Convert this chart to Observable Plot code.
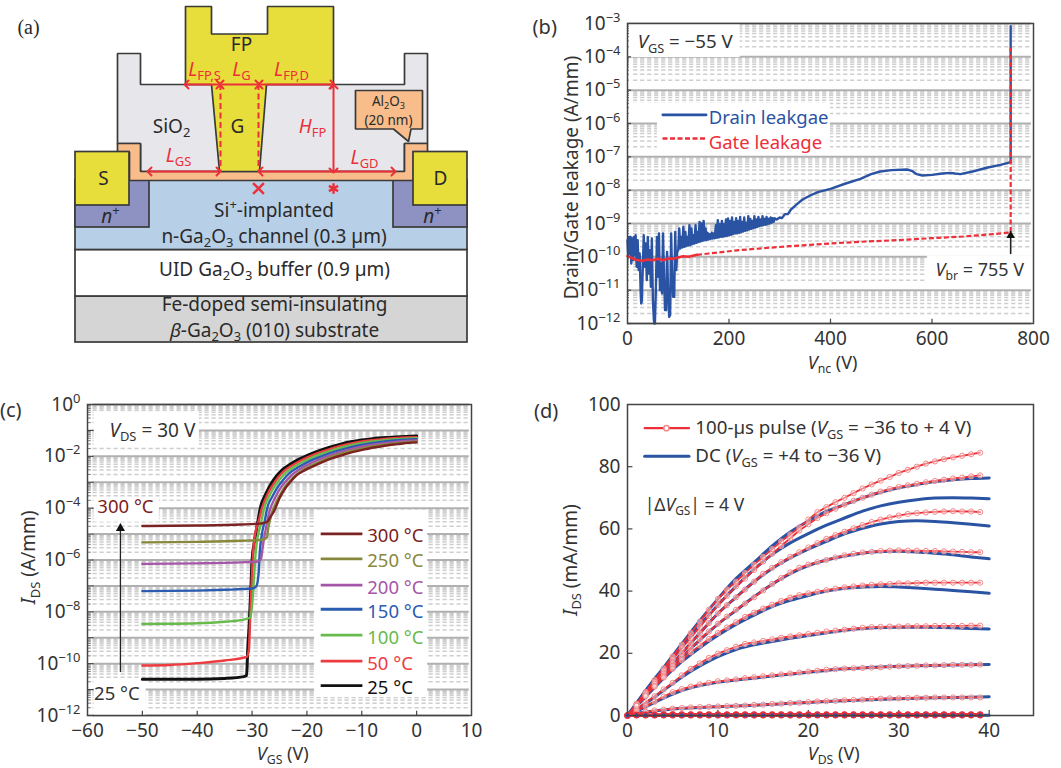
<!DOCTYPE html>
<html>
<head>
<meta charset="utf-8">
<script src="https://cdn.jsdelivr.net/npm/d3@7"></script>
<script src="https://cdn.jsdelivr.net/npm/@observablehq/plot@0.6"></script>
<style>
html,body{margin:0;padding:0;background:#fff}
#page{position:relative;width:1061px;height:768px;overflow:hidden;background:#fff}
#page>svg{position:absolute;background:transparent}
</style>
</head>
<body>
<div id="page"></div>
<script>
const FONT = "'Noto Sans', sans-serif";
const INK = "#333", RED = "#ec2f38", BLUE = "#2b53a3", FRAME = "#444";

/* ---------- panel (a): device cross-section geometry, in picture units ---------- */
const substrateLayer = {x1:75,x2:467,y1:296,y2:342};
const bufferLayer = {x1:75,x2:467,y1:249.5,y2:296};
const channelLayer = {x1:75,x2:467,y1:180,y2:249.5};
const nPlusRegions = [{x1:75,x2:149,y1:180,y2:227},{x1:393,x2:467,y1:180,y2:227}];
const contactRegions = [{x1:75,x2:129,y1:151.5,y2:205},{x1:413,x2:467,y1:151.5,y2:205}];
const oxideOutline = [[117,143],[117,53],[140,53],[140,84],[404,84],[404,53],[427,53],[427,143],[404,143],[404,171],[140,171],[140,143],[117,143]];
const aluminaOutline = [[117,151.5],[117,143],[140,143],[140,171],[404,171],[404,143],[427,143],[427,151.5],[413,151.5],[413,180],[129,180],[129,151.5],[117,151.5]];
const gateOutline = [[185,6],[211,6],[211,33.5],[267,33.5],[267,6],[333,6],[333,84],[266,84],[259,171],[219,171],[211,84],[185,84],[185,6]];
const calloutOutline = [[355,90],[422,90],[422,128.5],[410.5,128.5],[408,141],[393,128.5],[355,128.5],[355,90]];
const dimensionArrows = [
  {x1:186,y1:84,x2:218,y2:84},{x1:221,y1:84,x2:257,y2:84},{x1:260,y1:84,x2:332,y2:84},
  {x1:149,y1:171,x2:218,y2:171},{x1:260,y1:171,x2:393,y2:171},{x1:333,y1:86,x2:333,y2:170}
];
const gateGuides = [{x:220,y1:84,y2:171},{x:258,y1:84,y2:171}];
const fieldMarks = [{x:258,y:188,s:"times"},{x:333,y:188,s:"asterisk"}];
const blackLabelsA = [
  {x:241,y:44,t:"FP"},{x:171,y:126,t:"SiO_{2}"},{x:237,y:126,t:"G"},{x:103,y:178,t:"S"},{x:440,y:178,t:"D"},
  {x:110,y:216,t:"*n*^{+}"},{x:432,y:216,t:"*n*^{+}"},
  {x:273.5,y:210,t:"Si^{+}-implanted"},{x:273.5,y:236,t:"n-Ga_{2}O_{3} channel (0.3 µm)"},
  {x:274,y:269,t:"UID Ga_{2}O_{3} buffer (0.9 µm)"},
  {x:274,y:304,t:"Fe-doped semi-insulating"},{x:274,y:330,t:"*β*-Ga_{2}O_{3} (010) substrate"}
];
const redLabelsA = [
  {x:204,y:69,t:"*L*_{FP,S}"},{x:241,y:69,t:"*L*_{G}"},{x:291,y:69,t:"*L*_{FP,D}"},
  {x:312,y:126,t:"*H*_{FP}"},{x:178,y:155,t:"*L*_{GS}"},{x:364,y:157,t:"*L*_{GD}"}
];
const calloutLabels = [{x:388,y:101,t:"Al_{2}O_{3}"},{x:388,y:120.5,t:"(20 nm)"}];

/* ---------- panel (b): leakage, [V, log10 A/mm] ---------- */
const drainLeakage = [[0,-9.5],[1.5,-10],[3,-9.4],[4.5,-9.9],[6,-9.4],[7.5,-10.2],[9,-9.45],[11,-10.1],[12.5,-9.4],[14,-9.95],[16,-9.35],[18,-10.3],[20,-9.5],[22,-10.4],[24,-9.9],[26,-11.1],[27,-11.4],[28,-11.35],[30,-10.4],[32,-9.35],[34,-10.3],[36,-9.6],[38,-10.7],[40,-9.4],[42,-10.5],[44,-9.8],[46,-10.9],[48,-9.45],[50,-11.3],[52,-11.9],[53,-12],[54,-12],[56,-10.9],[58,-9.4],[60,-10.6],[62,-9.3],[64,-11],[66,-10.2],[68,-11.1],[70,-9.3],[72,-10.6],[74,-11.6],[76,-11.6],[78,-9.85],[80,-11],[82,-11.8],[84,-11.75],[86,-9.3],[88,-10.6],[90,-11.2],[92,-11.2],[94,-9.25],[96,-10.4],[98,-9.85],[100,-9.8],[102,-9.15],[104,-9.75],[106,-9.4],[108,-9.72],[110,-9.1],[112,-9.7],[114,-9.25],[116,-9.68],[118,-9.4],[120,-9.66],[122,-9.05],[124,-9.65],[126,-9.15],[128,-9.62],[130,-9.35],[132,-9.6],[134,-9.05],[136,-9.58],[138,-9.25],[140,-9.56],[142,-8.95],[144,-9.54],[146,-9],[148,-9.52],[150,-8.92],[152,-9.5],[154,-9.15],[156,-9.5],[158,-9.28],[160,-9.48],[162,-9.32],[164,-9.46],[166,-9.28],[168,-9.45],[170,-9.3],[172,-9.44],[174,-9.05],[176,-9.43],[178,-8.9],[180,-9.42],[182,-9.02],[184,-9.4],[186,-8.92],[188,-9.4],[190,-9.02],[192,-9.38],[194,-8.88],[196,-9.37],[198,-8.85],[200,-9.36],[202,-8.92],[204,-9.34],[206,-8.82],[208,-9.32],[210,-8.95],[212,-9.3],[214,-8.84],[216,-9.3],[218,-8.92],[220,-9.28],[222,-8.8],[224,-9.26],[226,-8.95],[228,-9.24],[230,-8.82],[232,-9.22],[234,-8.98],[236,-9.2],[238,-8.78],[240,-9.18],[242,-8.86],[244,-9.16],[246,-8.92],[248,-9.14],[250,-8.78],[252,-9.12],[254,-8.88],[256,-9.1],[258,-8.8],[260,-9.08],[262,-8.88],[264,-9.06],[266,-8.78],[268,-9.05],[270,-8.86],[272,-9.04],[274,-8.8],[276,-9.02],[278,-8.86],[280,-9],[282,-8.82],[284,-8.98],[286,-8.84],[288,-8.95],[290,-8.84],[294,-8.88],[300,-8.82],[304,-8.84],[310,-8.72],[316,-8.72],[322,-8.58],[328,-8.5],[334,-8.42],[345,-8.28],[360,-8.16],[375,-8.06],[400,-7.96],[430,-7.8],[459,-7.66],[480,-7.52],[498,-7.44],[520,-7.4],[551,-7.38],[560,-7.42],[570,-7.52],[581,-7.56],[600,-7.54],[620,-7.5],[636,-7.48],[645,-7.5],[656,-7.52],[680,-7.44],[710,-7.32],[735,-7.24],[755,-7.16],[755,-3.08]];
const gateEarly = [[0,-9.98],[8,-10.03],[15,-10.08],[22,-10.1],[30,-10.12],[40,-10.08],[50,-10.1],[60,-10.06],[70,-10.1],[80,-10.05],[90,-10.06],[100,-10.02],[110,-9.98],[120,-10],[137,-9.94]];
const gateLate = [[137,-9.94],[160,-9.9],[190,-9.85],[220,-9.8],[268,-9.74],[320,-9.68],[399,-9.6],[470,-9.54],[531,-9.5],[600,-9.44],[662,-9.39],[720,-9.32],[755,-9.27],[755,-3.72]];
const breakdownArrow = [[755,-9.9],[755,-9.42]];
const breakdownTip = [[755,-9.36]];
const boxesB = [
  {x1:0,x2:222,y1:-3,y2:-4.02},{x1:12,x2:400,y1:-5.4,y2:-5.96},{x1:59,x2:400,y1:-5.96,y2:-6.96},{x1:591,x2:800,y1:-9.97,y2:-10.98}
];
const legendLinesB = [[69.5,-5.74],[155,-5.74]];
const legendDashB = [[69,-6.45],[155,-6.45]];
const textsB = [
  {x:20,e:-3.57,t:"*V*_{GS} = −55 V",c:INK,s:18.7},
  {x:160,e:-5.83,t:"Drain leakgae",c:BLUE,s:18.5},
  {x:160,e:-6.58,t:"Gate leakage",c:RED,s:18.5},
  {x:607,e:-10.4,t:"*V*_{br} = 755 V",c:INK,s:18}
];

/* ---------- panel (c): transfer curves, [VGS, log10 A/mm] ---------- */
const t25 = [[-50,-10.6],[-40,-10.6],[-35,-10.57],[-31.5,-10.5],[-31,-10.45],[-30.8,-9.5],[-30.5,-8.4],[-30.2,-7],[-30,-6],[-29.5,-5.2],[-29,-4.58],[-28.5,-4],[-27.5,-3.45],[-26.5,-3.05],[-25.5,-2.75],[-24.5,-2.52],[-23,-2.3],[-21.5,-2.12],[-20,-1.97],[-18,-1.8],[-16,-1.66],[-14,-1.54],[-12,-1.44],[-10,-1.37],[-8,-1.32],[-5,-1.27],[-2,-1.23],[0,-1.22]];
const t50 = [[-50,-10.07],[-45,-10.05],[-40,-9.98],[-35,-9.88],[-31,-9.74],[-30.6,-9.5],[-30.3,-8],[-30,-6.5],[-29.6,-5.2],[-28.8,-4.5],[-28.2,-4],[-27.2,-3.47],[-26.2,-3.1],[-25.2,-2.8],[-24.2,-2.57],[-22.7,-2.35],[-21.2,-2.17],[-19.7,-2.02],[-17.7,-1.85],[-15.7,-1.71],[-13.7,-1.59],[-11.7,-1.49],[-9.7,-1.42],[-7.7,-1.37],[-5,-1.31],[-2,-1.27],[0,-1.26]];
const t100 = [[-50,-8.47],[-45,-8.46],[-40,-8.44],[-35,-8.38],[-32,-8.32],[-30.3,-8.22],[-29.9,-7.5],[-29.6,-6.5],[-29.3,-5.6],[-28.4,-4.6],[-27.8,-4],[-26.8,-3.5],[-25.8,-3.12],[-24.8,-2.85],[-23.8,-2.62],[-22.3,-2.4],[-20.8,-2.22],[-19.3,-2.07],[-17.3,-1.9],[-15.3,-1.76],[-13.3,-1.64],[-11.3,-1.54],[-9.3,-1.46],[-7.3,-1.41],[-4.5,-1.35],[-2,-1.32],[0,-1.3]];
const t150 = [[-50,-7.2],[-40,-7.18],[-35,-7.15],[-30,-7.1],[-29.2,-7],[-28.8,-6.5],[-28.6,-5.7],[-28.2,-5],[-27.6,-4.4],[-27.3,-4.05],[-26.3,-3.55],[-25.3,-3.18],[-24.3,-2.9],[-23.3,-2.67],[-21.8,-2.45],[-20.3,-2.27],[-18.8,-2.12],[-16.8,-1.95],[-14.8,-1.81],[-12.8,-1.69],[-10.8,-1.59],[-8.8,-1.51],[-6.8,-1.45],[-4,-1.39],[-2,-1.36],[0,-1.34]];
const t200 = [[-50,-6.15],[-40,-6.13],[-32,-6.09],[-29,-6.06],[-28.4,-5.98],[-28,-5.4],[-27.5,-4.8],[-26.8,-4.1],[-25.8,-3.6],[-24.8,-3.22],[-23.8,-2.95],[-22.8,-2.73],[-21.3,-2.5],[-19.8,-2.32],[-18.3,-2.17],[-16.3,-2],[-14.3,-1.86],[-12.3,-1.74],[-10.3,-1.64],[-8.3,-1.56],[-6.3,-1.5],[-4,-1.45],[-2,-1.41],[0,-1.39]];
const t250 = [[-50,-5.32],[-40,-5.3],[-32,-5.26],[-28,-5.22],[-27.3,-5.12],[-27,-4.7],[-26.4,-4.2],[-25.4,-3.68],[-24.4,-3.3],[-23.4,-3.02],[-22.4,-2.79],[-20.9,-2.56],[-19.4,-2.38],[-17.9,-2.23],[-15.9,-2.05],[-13.9,-1.91],[-11.9,-1.79],[-9.9,-1.69],[-7.9,-1.61],[-5.9,-1.55],[-4,-1.5],[-2,-1.46],[0,-1.44]];
const t300 = [[-50,-4.69],[-40,-4.67],[-32,-4.63],[-29,-4.6],[-28,-4.58],[-27.2,-4.52],[-26.7,-4.35],[-26,-4.12],[-25,-3.62],[-24,-3.25],[-23,-2.98],[-22,-2.75],[-20.5,-2.55],[-19,-2.4],[-17.5,-2.25],[-15.5,-2.08],[-13.5,-1.95],[-11.5,-1.83],[-9.5,-1.73],[-7.5,-1.65],[-5.5,-1.58],[-3.5,-1.53],[-1.5,-1.48],[0,-1.46]];
const temperatureSeries = [
  {t:"25 °C",c:"#111111",d:t25,e:-10.85,w:3},{t:"50 °C",c:"#ee3b3f",d:t50,e:-9.9,w:2.4},{t:"100 °C",c:"#68bb4b",d:t100,e:-8.9,w:2.4},
  {t:"150 °C",c:"#2a5cb0",d:t150,e:-7.9,w:2.4},{t:"200 °C",c:"#a656a8",d:t200,e:-6.97,w:2.4},{t:"250 °C",c:"#88883c",d:t250,e:-5.96,w:2.4},{t:"300 °C",c:"#7b2222",d:t300,e:-4.99,w:2.4}
];
const legendLineX = [-17.4,-9.8];
const boxesC = [
  {x1:-58.8,x2:-39.6,y1:-0.28,y2:-1.6},{x1:-58.8,x2:-46.9,y1:-3.65,y2:-4.54},
  {x1:-18.6,x2:2,y1:-4.08,y2:-11.3},{x1:-58.8,x2:-49.3,y1:-10.62,y2:-12}
];
const textsC = [
  {x:-56,e:-1,t:"*V*_{DS} = 30 V",c:INK,s:19},
  {x:-58.2,e:-3.96,t:"300 °C",c:"#7b2222",s:18.5},
  {x:-58.8,e:-11.19,t:"25 °C",c:INK,s:18.5}
];
const heatingArrow = [[-54,-10.3],[-54,-4.9]];
const heatingTip = [[-54,-4.78]];

/* ---------- panel (d): output curves, IDS (mA/mm) ---------- */
const pulseVds = d3.range(40);
const pulseA = [0,3.8,7.6,11.4,15.2,19,22.8,26.5,30.2,34,37.5,40.5,43,45.8,48.5,51,53.5,56,58.2,60.5,63,65.4,67,68.6,70,71.5,73,74.3,75.5,76.7,78,79,80,81,81.7,82.4,83,83.5,84,84.5];
const pulseB = [0,3.6,7.2,10.8,14.4,18,21.6,25,28.5,32,35.5,38.5,41.5,44,46.8,49.5,52,54.5,57,59.5,61.5,63.5,65,66.5,67.8,69,70,71,72,72.8,73.5,74,74.5,75,75.4,75.8,76.2,76.5,76.9,77.2];
const pulseC = [0,3.4,6.8,10.2,13.5,16.8,20,23.3,26.5,29.7,32.8,35.5,38,40.5,43,45.6,47.5,49.3,51,52.5,54,55.4,56.8,58,59.1,60.2,61.2,62.2,63,63.7,64.3,64.8,65.1,65.3,65.5,65.6,65.7,65.6,65.6,65.4];
const pulseD = [0,3.2,6.4,9.5,12.6,15.8,18.8,21.7,24.5,27,29.5,31.8,34,36,38,40.2,42.3,44.2,46,47.5,48.5,49.3,50,50.8,51.5,52,52.4,52.6,52.9,53,53.1,53,53,52.9,52.9,52.8,52.7,52.6,52.5,52.5];
const pulseE = [0,3.1,6.2,9.3,12.2,15,17.8,20.3,22.5,24.6,26.5,28.3,30,31.7,33.1,34.4,35.6,36.8,37.9,38.7,39.3,39.8,40.3,40.8,41.2,41.5,41.8,42,42.2,42.3,42.5,42.5,42.6,42.7,42.7,42.7,42.7,42.7,42.7,42.7];
const pulseF = [0,2,4.2,6.2,8.4,10.5,12.9,15,16.8,18.5,19.9,21,22.1,23,23.5,24,24.5,25,25.4,25.8,26.2,26.6,27,27.3,27.6,27.9,28.2,28.4,28.5,28.6,28.6,28.7,28.7,28.7,28.8,28.8,28.8,28.8,28.9,28.9];
const pulseG = [0,1.5,3,4.4,6.1,7.5,8.5,9.3,10,10.5,11,11.3,11.6,12,12.3,12.6,12.9,13.2,13.5,13.8,14.1,14.4,14.7,14.9,15.1,15.2,15.3,15.4,15.5,15.7,15.8,15.9,16,16.1,16.1,16.2,16.3,16.3,16.3,16.4];
const pulseH = [0,0.6,1.2,1.6,1.9,2.2,2.4,2.6,2.7,2.8,2.9,3,3.1,3.2,3.4,3.5,3.7,3.8,4,4.1,4.3,4.5,4.6,4.7,4.9,5,5.1,5.3,5.4,5.5,5.5,5.6,5.7,5.7,5.8,5.8,5.8,5.8,5.8,5.8];
const pulseI = [0,0.2,0.2,0.2,0.3,0.3,0.3,0.3,0.3,0.3,0.3,0.3,0.3,0.3,0.3,0.3,0.3,0.3,0.3,0.3,0.3,0.3,0.3,0.3,0.3,0.3,0.3,0.3,0.3,0.3,0.3,0.3,0.3,0.3,0.3,0.3,0.3,0.3,0.3,0.3];
const pulseJ = [0,0.1,0.1,0.1,0.1,0.1,0.1,0.1,0.1,0.1,0.1,0.1,0.1,0.1,0.1,0.1,0.1,0.1,0.1,0.1,0.1,0.1,0.1,0.1,0.1,0.1,0.1,0.1,0.1,0.1,0.1,0.1,0.1,0.1,0.1,0.1,0.1,0.1,0.1,0.1];
const pulseCurves = [pulseA,pulseB,pulseC,pulseD,pulseE,pulseF,pulseG,pulseH,pulseI,pulseJ];
const offCurves = [pulseI,pulseJ];
const dcA = [[0,0],[2,8],[4,15.5],[6,23],[8,30.5],[10,37.5],[12,44],[14,49.2],[16,54.5],[18,59],[20,62.5],[22,65.6],[24,67.8],[26,70],[28,71.8],[30,73.2],[32,74.3],[34,75.2],[36,75.8],[38,76.2],[40,76.4]];
const dcB = [[0,0],[2,7.4],[4,14.8],[6,22],[8,29],[10,35.5],[12,41.5],[14,47],[16,51.8],[18,55.5],[20,58.5],[22,61.2],[24,63.5],[26,65.7],[28,67.4],[30,68.6],[32,69.4],[34,69.9],[36,70],[38,69.9],[40,69.7]];
const dcC = [[0,0],[2,6.9],[4,13.5],[6,20],[8,26.5],[10,32.8],[12,38],[14,43],[16,47.3],[18,50.7],[20,53.5],[22,56],[24,58.4],[26,60.2],[28,61.6],[30,62.4],[32,62.6],[34,62.4],[36,62],[38,61.5],[40,60.9]];
const dcD = [[0,0],[2,6.3],[4,12.5],[6,18.6],[8,24.3],[10,29.4],[12,33.8],[14,38.2],[16,42.2],[18,45.6],[20,48.2],[22,50],[24,51.3],[26,52.2],[28,52.7],[30,52.8],[32,52.6],[34,52.2],[36,51.7],[38,51],[40,50.4]];
const dcE = [[0,0],[2,6],[4,12],[6,17.3],[8,21.8],[10,25.8],[12,29.3],[14,32.3],[16,35],[18,37],[20,38.6],[22,40],[24,40.9],[26,41.3],[28,41.5],[30,41.3],[32,41],[34,40.6],[36,40.2],[38,39.8],[40,39.3]];
const dcF = [[0,0],[2,3.9],[4,8.1],[6,12.3],[8,15.9],[10,18.9],[12,21.2],[14,22.7],[16,23.8],[18,24.8],[20,25.7],[22,26.6],[24,27.4],[26,28],[28,28.3],[30,28.4],[32,28.4],[34,28.3],[36,28.2],[38,28],[40,27.8]];
const dcG = [[0,0],[2,2.8],[4,5.6],[6,8],[8,9.6],[10,10.7],[12,11.4],[14,12],[16,12.7],[18,13.3],[20,13.9],[22,14.5],[24,15],[26,15.3],[28,15.6],[30,15.8],[32,16],[34,16.1],[36,16.2],[38,16.3],[40,16.4]];
const dcH = [[0,0],[2,1.1],[4,1.8],[6,2.3],[8,2.6],[10,2.8],[14,3.3],[18,3.9],[22,4.5],[26,5],[30,5.4],[34,5.7],[38,5.9],[40,6]];
const dcI = [[0,0],[20,0.05],[40,0.1]];
const dcCurves = [dcA,dcB,dcC,dcD,dcE,dcF,dcG,dcH,dcI];
const legendPulseLine = [[1.9,92.4],[6.8,92.4]];
const legendPulseDot = [[4.3,92.4]];
const legendDcLine = [[1.9,83.4],[6.8,83.4]];
const textsD = [
  {x:7.5,y:92.3,t:"100-µs pulse (*V*_{GS} = −36 to + 4 V)",s:18.7},
  {x:7.5,y:83.3,t:"DC (*V*_{GS} = +4 to −36 V)",s:18.7},
  {x:1.9,y:67.5,t:"|Δ*V*_{GS}| = 4 V",s:17.5}
];

/* ---------- helpers ---------- */
const TOKEN = /(\*[^*]+\*|_\{[^}]+\}|\^\{[^}]+\})/;
function rich(svg){
  svg.querySelectorAll("text").forEach(t=>{
    const s = t.textContent;
    if(!TOKEN.test(s)) return;
    const fs = parseFloat(getComputedStyle(t).fontSize);
    while(t.firstChild) t.removeChild(t.firstChild);
    let shift = 0;
    s.split(TOKEN).filter(p=>p!=="").forEach(p=>{
      const ts = document.createElementNS("http://www.w3.org/2000/svg","tspan");
      let target = 0, body = p;
      if(p[0]==="*"&&p.endsWith("*")&&p.length>2){body=p.slice(1,-1);ts.setAttribute("font-style","italic");}
      else if(p.startsWith("_{")){body=p.slice(2,-1);target=0.22*fs;ts.setAttribute("font-size",0.68*fs);}
      else if(p.startsWith("^{")){body=p.slice(2,-1);target=-0.42*fs;ts.setAttribute("font-size",0.68*fs);}
      if(target!==shift) ts.setAttribute("dy",target-shift);
      shift = target;
      ts.textContent = body;
      t.appendChild(ts);
    });
  });
}
function mount(plot,left,top){
  plot.style.left = left+"px";
  plot.style.top = top+"px";
  document.getElementById("page").appendChild(plot);
  rich(plot);
}
const decadeLabel = d => "10^{"+String(Math.round(Math.log10(d))).replace("-","−")+"}";
const val = d => 10**d[1];
const tag = (t)=>({t});

function logGrid(low,high,x1,x2,major){
  const minors=[]; const majors=[];
  for(let e=low;e<high;e++){ majors.push(10**e); for(let m=2;m<10;m++) minors.push(m*10**e); }
  majors.push(10**high);
  return [
    Plot.ruleY(minors,{x1,x2,stroke:"#8a8a8a",strokeOpacity:0.42,strokeWidth:1.5,strokeDasharray:"4.2 2.8"}),
    Plot.ruleY(majors,{x1:major,x2,stroke:"#b0b0b0",strokeWidth:2})
  ];
}
function logTicks(low,high,minorLen,majorLen,x0){
  const minors=[]; const majors=[];
  for(let e=low;e<high;e++){ majors.push(10**e); for(let m=2;m<10;m++) minors.push(m*10**e); }
  return [
    Plot.ruleY(minors,{x1:x0,x2:x0+minorLen,stroke:FRAME,strokeWidth:0.7}),
    Plot.ruleY(majors,{x1:x0,x2:x0+majorLen,stroke:FRAME,strokeWidth:1.2})
  ];
}

/* ---------- panel (a) ---------- */
const polygon = (pts,fill)=>Plot.line(pts,{x:d=>d[0],y:d=>d[1],fill,stroke:"#3a3a3a",strokeWidth:1.7,strokeLinejoin:"miter"});
const plotA = Plot.plot({
  width:530,height:380,margin:0,
  style:{fontFamily:FONT,fontSize:"19px",background:"transparent",color:INK},
  x:{domain:[0,530],axis:null},y:{domain:[0,380],range:[0,380],axis:null},
  marks:[
    Plot.rect([substrateLayer],{x1:"x1",x2:"x2",y1:"y1",y2:"y2",fill:"#d5d5d6",stroke:"#3a3a3a",strokeWidth:1.7}),
    Plot.rect([bufferLayer],{x1:"x1",x2:"x2",y1:"y1",y2:"y2",fill:"#ffffff",stroke:"#3a3a3a",strokeWidth:1.7}),
    Plot.rect([channelLayer],{x1:"x1",x2:"x2",y1:"y1",y2:"y2",fill:"#b8cfe8",stroke:"#3a3a3a",strokeWidth:1.7}),
    Plot.rect(nPlusRegions,{x1:"x1",x2:"x2",y1:"y1",y2:"y2",fill:"#8d92c3",stroke:"#3a3a3a",strokeWidth:1.7}),
    polygon(oxideOutline,"#e7e7eb"),
    polygon(aluminaOutline,"#f8bd8b"),
    polygon(gateOutline,"#e8de3b"),
    Plot.rect(contactRegions,{x1:"x1",x2:"x2",y1:"y1",y2:"y2",fill:"#e8de3b",stroke:"#3a3a3a",strokeWidth:1.7}),
    polygon(calloutOutline,"#f8bd8b"),
    Plot.ruleX(gateGuides,{x:"x",y1:"y1",y2:"y2",stroke:RED,strokeWidth:2,strokeDasharray:"6 3.5"}),
    Plot.link(dimensionArrows,{x1:"x1",y1:"y1",x2:"x2",y2:"y2",stroke:RED,strokeWidth:2,markerStart:"arrow-reverse",markerEnd:"arrow"}),
    Plot.dot(fieldMarks,{x:"x",y:"y",symbol:"s",r:5,stroke:RED,strokeWidth:2.4}),
    Plot.text(blackLabelsA,{x:"x",y:"y",text:"t",fill:"#2a2a2a",fontSize:19}),
    Plot.text(redLabelsA,{x:"x",y:"y",text:"t",fill:RED,fontSize:19}),
    Plot.text(calloutLabels,{x:"x",y:"y",text:"t",fill:"#2a2a2a",fontSize:13.5}),
    Plot.text([tag("(a)")],{x:()=>28,y:()=>27,text:"t",fontSize:20,fontFamily:"'Liberation Serif',serif",fill:"#2a2a2a"})
  ]
});
mount(plotA,0,0);

/* ---------- panel (b) ---------- */
const decadesB = d3.range(-12,-2).map(e=>10**e);
const plotB = Plot.plot({
  width:531,height:380,marginLeft:97,marginRight:28,marginTop:23,marginBottom:57,
  style:{fontFamily:FONT,fontSize:"19px",background:"transparent",color:INK},
  x:{domain:[0,800]},y:{type:"log",domain:[1e-12,1e-3]},
  marks:[
    ...logGrid(-12,-3,12,796,0),
    Plot.rect(boxesB,{x1:"x1",x2:"x2",y1:d=>10**d.y1,y2:d=>10**d.y2,fill:"white"}),
    ...logTicks(-12,-3,4,8,0),
    Plot.ruleX([200,400,600],{y1:1e-12,y2:10**-11.87,stroke:FRAME,strokeWidth:1.2}),
    Plot.line(drainLeakage,{x:d=>d[0],y:val,stroke:BLUE,strokeWidth:2.4}),
    Plot.line(gateEarly,{x:d=>d[0],y:val,stroke:RED,strokeWidth:2.6}),
    Plot.line(gateLate,{x:d=>d[0],y:val,stroke:RED,strokeWidth:2.2,strokeDasharray:"5 2.5",strokeLinecap:"butt"}),
    Plot.line(breakdownArrow,{x:d=>d[0],y:val,stroke:"#222",strokeWidth:1.6}),
    Plot.dot(breakdownTip,{x:d=>d[0],y:val,symbol:"triangle",r:3.2,fill:"#111"}),
    Plot.line(legendLinesB,{x:d=>d[0],y:val,stroke:BLUE,strokeWidth:2.6}),
    Plot.line(legendDashB,{x:d=>d[0],y:val,stroke:RED,strokeWidth:2.6,strokeDasharray:"5 2.5",strokeLinecap:"butt"}),
    Plot.text(textsB,{x:"x",y:d=>10**d.e,text:"t",fill:"c",textAnchor:"start",fontSize:"s"}),
    Plot.axisY(decadesB,{tickSize:0,tickPadding:7,label:null,tickFormat:decadeLabel,fontSize:19}),
    Plot.axisX([0,200,400,600,800],{tickSize:0,tickPadding:8,label:null,fontSize:19}),
    Plot.text([tag("*V*_{nc} (V)")],{x:()=>404,y:()=>10**-13.2,text:"t",fontSize:18,fill:INK}),
    Plot.text([tag("Drain/Gate leakage (A/mm)")],{x:()=>-110,y:()=>10**-7.62,text:"t",rotate:-90,fontSize:19,fill:INK}),
    Plot.text([tag("(b)")],{x:()=>-163,y:()=>10**-3.12,text:"t",fontSize:20,fill:INK}),
    Plot.frame({stroke:FRAME,strokeWidth:1.5})
  ]
});
mount(plotB,530,0);

/* ---------- panel (c) ---------- */
const decadesC = [1e-12,1e-10,1e-8,1e-6,1e-4,1e-2,1];
const plotC = Plot.plot({
  width:530,height:378,marginLeft:87,marginRight:59,marginTop:14,marginBottom:53,
  style:{fontFamily:FONT,fontSize:"19px",background:"transparent",color:INK},
  x:{domain:[-60,10]},y:{type:"log",domain:[1e-12,1]},
  marks:[
    ...logGrid(-12,0,-59,9.6,-59),
    Plot.rect(boxesC,{x1:"x1",x2:"x2",y1:d=>10**d.y1,y2:d=>10**d.y2,fill:"white"}),
    ...logTicks(-12,0,0.7,1.2,-60),
    Plot.ruleX([-50,-40,-30,-20,-10,0],{y1:1e-12,y2:10**-11.84,stroke:FRAME,strokeWidth:1.2}),
    ...temperatureSeries.map(s=>Plot.line(s.d,{x:d=>d[0],y:val,stroke:s.c,strokeWidth:s.w,curve:"monotone-x"})),
    Plot.line(heatingArrow,{x:d=>d[0],y:val,stroke:"#222",strokeWidth:1.3}),
    Plot.dot(heatingTip,{x:d=>d[0],y:val,symbol:"triangle",r:3.4,fill:"#111"}),
    Plot.ruleY(temperatureSeries,{y:d=>10**d.e,x1:legendLineX[0],x2:legendLineX[1],stroke:"c",strokeWidth:2.8}),
    Plot.text(temperatureSeries,{x:-9,y:d=>10**(d.e-0.1),text:"t",fill:"c",textAnchor:"start",fontSize:18.5}),
    Plot.text(textsC,{x:"x",y:d=>10**d.e,text:"t",fill:"c",textAnchor:"start",fontSize:"s"}),
    Plot.axisY(decadesC,{tickSize:0,tickPadding:7,label:null,tickFormat:decadeLabel,fontSize:19}),
    Plot.axisX([-60,-50,-40,-30,-20,-10,0,10],{tickSize:0,tickPadding:8,label:null,fontSize:19,tickFormat:d=>String(d).replace("-","−")}),
    Plot.text([tag("*V*_{GS} (V)")],{x:()=>-24.4,y:()=>10**-13.5,text:"t",fontSize:18,fill:INK}),
    Plot.text([tag("*I*_{DS} (A/mm)")],{x:()=>-70.6,y:()=>10**-5.9,text:"t",rotate:-90,fontSize:19,fill:INK}),
    Plot.text([tag("(c)")],{x:()=>-74,y:()=>10**-0.25,text:"t",fontSize:20,fill:INK}),
    Plot.frame({stroke:FRAME,strokeWidth:1.5})
  ]
});
mount(plotC,0,390);

/* ---------- panel (d) ---------- */
const pulseRows = pulseCurves.flatMap((c,k)=>c.map((v,i)=>({k,x:pulseVds[i],y:v})));
const offRows = offCurves.flatMap((c,k)=>c.map((v,i)=>({k,x:pulseVds[i],y:v})));
const dcRows = dcCurves.flatMap((c,k)=>c.map(d=>({k,x:d[0],y:d[1]})));
const plotD = Plot.plot({
  width:531,height:378,marginLeft:97,marginRight:28,marginTop:14,marginBottom:53,
  style:{fontFamily:FONT,fontSize:"19px",background:"transparent",color:INK},
  x:{domain:[0,44.9]},y:{domain:[0,100]},
  marks:[
    Plot.ruleY([20,40,60,80],{x1:0,x2:0.6,stroke:FRAME,strokeWidth:1.2}),
    Plot.ruleX([10,20,30,40],{y1:0,y2:1.6,stroke:FRAME,strokeWidth:1.2}),
    Plot.line(dcRows,{x:"x",y:"y",z:"k",stroke:BLUE,strokeWidth:3,curve:"monotone-x"}),
    Plot.line(pulseRows,{x:"x",y:"y",z:"k",stroke:RED,strokeWidth:1.8}),
    Plot.line(offRows,{x:"x",y:"y",z:"k",stroke:RED,strokeWidth:3}),
    Plot.dot(pulseRows,{x:"x",y:"y",r:2.6,stroke:"#f28a8a",strokeWidth:1,fill:"white",fillOpacity:0.4}),
    Plot.dot(offRows,{x:"x",y:"y",r:2.6,stroke:RED,strokeWidth:1.2,fill:"#3a4aa8"}),
    Plot.line(legendPulseLine,{x:d=>d[0],y:d=>d[1],stroke:RED,strokeWidth:2.2}),
    Plot.dot(legendPulseDot,{x:d=>d[0],y:d=>d[1],r:2.6,stroke:"#f28a8a",fill:"white"}),
    Plot.line(legendDcLine,{x:d=>d[0],y:d=>d[1],stroke:BLUE,strokeWidth:3}),
    Plot.text(textsD,{x:"x",y:"y",text:"t",fill:INK,textAnchor:"start",fontSize:"s"}),
    Plot.axisY([0,20,40,60,80,100],{tickSize:0,tickPadding:7,label:null,fontSize:19}),
    Plot.axisX([0,10,20,30,40],{tickSize:0,tickPadding:8,label:null,fontSize:19}),
    Plot.text([tag("*V*_{DS} (V)")],{x:()=>22.8,y:()=>-12.6,text:"t",fontSize:18,fill:INK}),
    Plot.text([tag("*I*_{DS} (mA/mm)")],{x:()=>-6.3,y:()=>50,text:"t",rotate:-90,fontSize:19,fill:INK}),
    Plot.text([tag("(d)")],{x:()=>-9,y:()=>97.7,text:"t",fontSize:20,fill:INK}),
    Plot.frame({stroke:FRAME,strokeWidth:1.5})
  ]
});
mount(plotD,530,390);
</script>
</body>
</html>
